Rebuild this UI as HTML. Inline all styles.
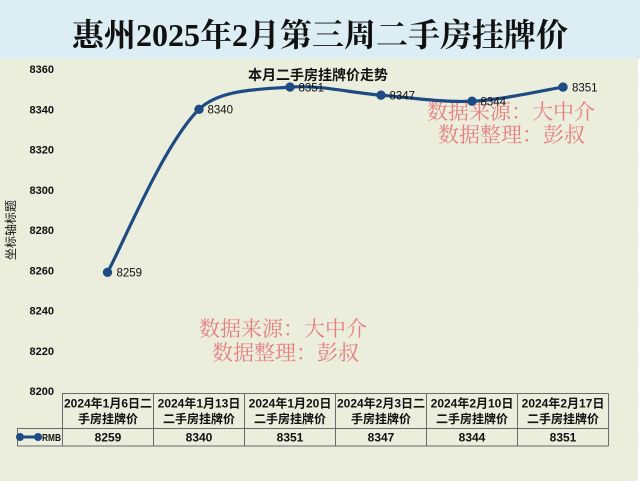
<!DOCTYPE html>
<html><head><meta charset="utf-8"><style>
html,body{margin:0;padding:0;background:#fff;}
body{width:640px;height:483px;overflow:hidden;position:relative;}
</style></head><body>
<svg width="640" height="483" viewBox="0 0 640 483" xmlns="http://www.w3.org/2000/svg" style="position:absolute;left:0;top:0">
<rect x="0" y="0" width="640" height="483" fill="#ffffff"/>
<rect x="0" y="0" width="640" height="59" fill="#dcedf3"/>
<rect x="0" y="59" width="638" height="422" fill="#ebeedd"/>
<g stroke="#e4e4e4" stroke-width="1">
<line x1="638" y1="80" x2="640" y2="80"/><line x1="638" y1="120" x2="640" y2="120"/><line x1="638" y1="160" x2="640" y2="160"/><line x1="638" y1="200" x2="640" y2="200"/><line x1="638" y1="240" x2="640" y2="240"/><line x1="638" y1="280" x2="640" y2="280"/><line x1="638" y1="320" x2="640" y2="320"/><line x1="638" y1="360" x2="640" y2="360"/><line x1="638" y1="400" x2="640" y2="400"/><line x1="638" y1="440" x2="640" y2="440"/>
</g>
<text x="320" y="46" text-anchor="middle" font-family="Liberation Serif, 'Noto Serif CJK SC', serif" font-weight="bold" font-size="32" fill="#111">惠州2025年2月第三周二手房挂牌价</text>

<text x="318" y="80" text-anchor="middle" font-family="Liberation Sans, 'Noto Sans CJK SC', sans-serif" font-weight="bold" font-size="14" fill="#111">本月二手房挂牌价走势</text>

<g font-family="Liberation Sans, sans-serif" font-weight="bold" font-size="11" fill="#111" text-anchor="end">
<text x="54" y="73">8360</text>
<text x="54" y="113.3">8340</text>
<text x="54" y="153.5">8320</text>
<text x="54" y="193.8">8300</text>
<text x="54" y="234">8280</text>
<text x="54" y="274.3">8260</text>
<text x="54" y="314.5">8240</text>
<text x="54" y="354.8">8220</text>
<text x="54" y="395">8200</text>
</g>
<text transform="translate(15,230) rotate(-90)" text-anchor="middle" font-family="'Noto Sans CJK SC', sans-serif" font-size="12" fill="#111">坐标轴标题</text>

<g font-family="'Noto Serif CJK SC', serif" font-size="21" fill="#e87878" opacity="0.95">
<text x="427" y="119">数据来源：大中介</text>
<text x="438" y="142">数据整理：彭叔</text>
<text x="199" y="336">数据来源：大中介</text>
<text x="212" y="360">数据整理：彭叔</text>
</g>

<path d="M107.5,272.3 C122.75,245.1 163,145 199,109.3 C220,89 259.7,89.45 290,87.1 C320.3,84.75 350.7,92.85 381,95.2 C411.3,97.55 441.7,102.55 472,101.2 C502.3,99.85 547.8,89.45 563,87.1" fill="none" stroke="#1f4b85" stroke-width="3.2" stroke-linecap="round"/>
<g fill="#1f4b85">
<circle cx="107.5" cy="272.3" r="4.7"/>
<circle cx="199" cy="109.3" r="4.7"/>
<circle cx="290" cy="87.1" r="4.7"/>
<circle cx="381" cy="95.2" r="4.7"/>
<circle cx="472" cy="101.2" r="4.7"/>
<circle cx="563" cy="87.1" r="4.7"/>
</g>
<g font-family="Liberation Sans, sans-serif" font-size="11.5" fill="#111">
<text x="116.5" y="276.5">8259</text>
<text x="207.5" y="113.5">8340</text>
<text x="298.5" y="91.3">8351</text>
<text x="389.5" y="99.4">8347</text>
<text x="480.5" y="105.4">8344</text>
<text x="572" y="91.3">8351</text>
</g>

<g stroke="#6a6a6a" stroke-width="1" fill="none">
<line x1="62" y1="393.5" x2="608.5" y2="393.5"/>
<line x1="17" y1="428.5" x2="608.5" y2="428.5"/>
<line x1="17" y1="446" x2="608.5" y2="446"/>
<line x1="17.5" y1="428.5" x2="17.5" y2="446"/>
<line x1="62.5" y1="393.5" x2="62.5" y2="446"/>
<line x1="153.5" y1="393.5" x2="153.5" y2="446"/>
<line x1="244.5" y1="393.5" x2="244.5" y2="446"/>
<line x1="335.5" y1="393.5" x2="335.5" y2="446"/>
<line x1="426.5" y1="393.5" x2="426.5" y2="446"/>
<line x1="517.5" y1="393.5" x2="517.5" y2="446"/>
<line x1="608.5" y1="393.5" x2="608.5" y2="446"/>
</g>
<g font-family="Liberation Sans, 'Noto Sans CJK SC', sans-serif" font-weight="bold" font-size="12" fill="#111" text-anchor="middle">
<text x="108" y="407.5">2024年1月6日二</text><text x="108" y="423">手房挂牌价</text>
<text x="199" y="407.5">2024年1月13日</text><text x="199" y="423">二手房挂牌价</text>
<text x="290" y="407.5">2024年1月20日</text><text x="290" y="423">二手房挂牌价</text>
<text x="381" y="407.5">2024年2月3日二</text><text x="381" y="423">手房挂牌价</text>
<text x="472" y="407.5">2024年2月10日</text><text x="472" y="423">二手房挂牌价</text>
<text x="563" y="407.5">2024年2月17日</text><text x="563" y="423">二手房挂牌价</text>
<text x="108" y="441.5">8259</text>
<text x="199" y="441.5">8340</text>
<text x="290" y="441.5">8351</text>
<text x="381" y="441.5">8347</text>
<text x="472" y="441.5">8344</text>
<text x="563" y="441.5">8351</text>
</g>
<line x1="20" y1="437" x2="38" y2="437" stroke="#1f4b85" stroke-width="3"/>
<circle cx="20" cy="437" r="4" fill="#1f4b85"/>
<circle cx="38" cy="437" r="4" fill="#1f4b85"/>
<text x="61" y="441" text-anchor="end" font-family="Liberation Sans, sans-serif" font-weight="bold" font-size="10.5" fill="#111" textLength="19" lengthAdjust="spacingAndGlyphs">RMB</text>
</svg>
</body></html>
